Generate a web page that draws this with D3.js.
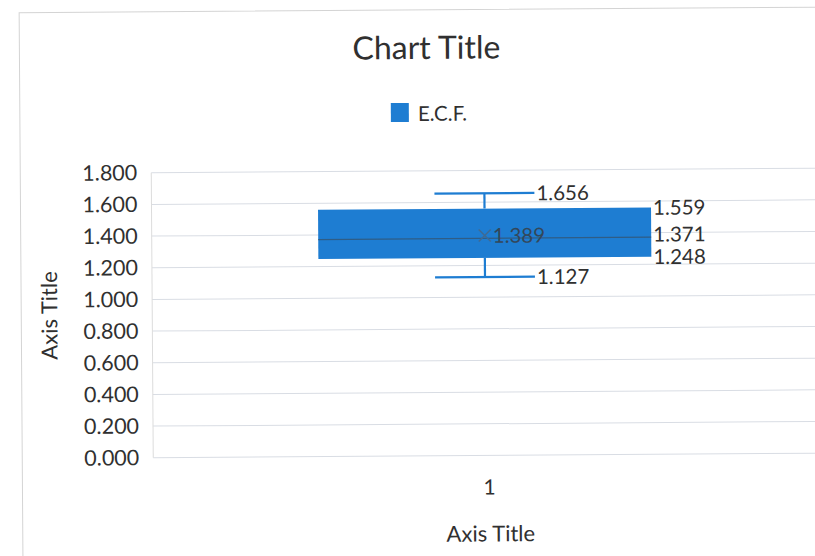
<!DOCTYPE html>
<html>
<head>
<meta charset="utf-8">
<script src="https://cdn.jsdelivr.net/npm/d3@7"></script>
<style>
  body { margin: 0; background: #fff; }
  svg { display: block; }
  text { font-family: Lato, "Open Sans", sans-serif; }
</style>
</head>
<body>
<svg id="chart" width="815" height="556"></svg>
<script>
// Box-and-whisker summary for one category
const categories = ["1"];
const seriesName = "E.C.F.";
const minValues = [1.127];
const q1Values = [1.248];
const medianValues = [1.371];
const meanValues = [1.389];
const q3Values = [1.559];
const maxValues = [1.656];
const yTicks = [0, 0.2, 0.4, 0.6, 0.8, 1.0, 1.2, 1.4, 1.6, 1.8];

const chartTitle = "Chart Title";
const xAxisTitle = "Axis Title";
const yAxisTitle = "Axis Title";

const boxes = categories.map((c, i) => ({
  cat: c,
  min: minValues[i], q1: q1Values[i], median: medianValues[i],
  mean: meanValues[i], q3: q3Values[i], max: maxValues[i]
}));

const fill = "#1e7dd2";
const textColor = "#303030";
const fmt = d3.format(".3f");

const svg = d3.select("#chart");
const root = svg.append("g").attr("transform", "rotate(-0.4, 407, 278)");

// chart frame
root.append("rect")
  .attr("x", 21).attr("y", 10)
  .attr("width", 820).attr("height", 580)
  .attr("fill", "none").attr("stroke", "#d4d4d4").attr("stroke-width", 1);

const plot = { left: 152, right: 818, top: 171, bottom: 456 };

const x = d3.scaleBand().domain(categories).range([plot.left, plot.right]).padding(0);
const y = d3.scaleLinear().domain([0, 1.8]).range([plot.bottom, plot.top]);

// gridlines
root.append("g")
  .selectAll("line").data(yTicks).join("line")
  .attr("x1", plot.left).attr("x2", plot.right)
  .attr("y1", d => y(d)).attr("y2", d => y(d))
  .attr("stroke", "#d9dde4").attr("stroke-width", 1);

// left axis line
root.append("line")
  .attr("x1", plot.left).attr("x2", plot.left)
  .attr("y1", y(1.8)).attr("y2", y(0))
  .attr("stroke", "#dcdcdc").attr("stroke-width", 1);

// y axis labels
const yAxis = d3.axisLeft(y).tickValues(yTicks).tickFormat(fmt).tickSize(0).tickPadding(14);
const yg = root.append("g").attr("transform", `translate(${plot.left},0)`).call(yAxis);
yg.select(".domain").remove();
yg.selectAll("text")
  .attr("font-size", 21.5).attr("fill", textColor)
  .attr("font-family", "Lato, 'Open Sans', sans-serif");

// x axis label
const xAxis = d3.axisBottom(x).tickSize(0).tickPadding(0);
const xg = root.append("g").attr("transform", `translate(3,${plot.bottom + 24})`).call(xAxis);
xg.select(".domain").remove();
xg.selectAll("text")
  .attr("font-size", 21).attr("fill", textColor)
  .attr("font-family", "Lato, 'Open Sans', sans-serif");

// boxes
const bw = x.bandwidth();
const boxW = bw * 0.5;
const capW = bw * 0.15;

const g = root.append("g").selectAll("g").data(boxes).join("g");

g.each(function(d) {
  const sel = d3.select(this);
  const cx = x(d.cat) + bw / 2;

  // whiskers
  sel.append("line")
    .attr("x1", cx).attr("x2", cx)
    .attr("y1", y(d.q3)).attr("y2", y(d.max))
    .attr("stroke", fill).attr("stroke-width", 2.2);
  sel.append("line")
    .attr("x1", cx).attr("x2", cx)
    .attr("y1", y(d.q1)).attr("y2", y(d.min))
    .attr("stroke", fill).attr("stroke-width", 2.2);
  sel.append("line")
    .attr("x1", cx - capW / 2).attr("x2", cx + capW / 2)
    .attr("y1", y(d.max)).attr("y2", y(d.max))
    .attr("stroke", fill).attr("stroke-width", 2.2);
  sel.append("line")
    .attr("x1", cx - capW / 2).attr("x2", cx + capW / 2)
    .attr("y1", y(d.min)).attr("y2", y(d.min))
    .attr("stroke", fill).attr("stroke-width", 2.2);

  // box
  sel.append("rect")
    .attr("x", cx - boxW / 2).attr("width", boxW)
    .attr("y", y(d.q3)).attr("height", y(d.q1) - y(d.q3))
    .attr("fill", fill);

  // median
  sel.append("line")
    .attr("x1", cx - boxW / 2).attr("x2", cx + boxW / 2)
    .attr("y1", y(d.median)).attr("y2", y(d.median))
    .attr("stroke", "#2f5d86").attr("stroke-width", 1.3);

  // mean marker
  const m = 6;
  const my = y(d.mean);
  sel.append("path")
    .attr("d", `M${cx - m},${my - m}L${cx + m},${my + m}M${cx - m},${my + m}L${cx + m},${my - m}`)
    .attr("stroke", "#3f6a93").attr("stroke-width", 1.5).attr("fill", "none");

  // value labels
  const lab = (tx, ty, v, color) => sel.append("text")
    .attr("x", tx).attr("y", ty).attr("dy", "0.36em")
    .attr("font-size", 20.5).attr("fill", color || textColor)
    .text(fmt(v));

  lab(cx + capW / 2 + 2, y(d.max), d.max);
  lab(cx + capW / 2 + 2, y(d.min), d.min);
  lab(cx + 8, my, d.mean, "#33475a");
  lab(cx + boxW / 2 + 2, y(d.q3), d.q3);
  lab(cx + boxW / 2 + 2, y(d.median) - 3, d.median);
  lab(cx + boxW / 2 + 2, y(d.q1), d.q1);
});

// title
root.append("text")
  .attr("x", 428).attr("y", 59)
  .attr("text-anchor", "middle")
  .attr("font-size", 32).attr("fill", textColor)
  .text(chartTitle);

// legend
root.append("rect")
  .attr("x", 392).attr("y", 103).attr("width", 18).attr("height", 19)
  .attr("fill", fill);
root.append("text")
  .attr("x", 419).attr("y", 121)
  .attr("font-size", 20.5).attr("fill", textColor)
  .text(seriesName);

// axis titles
root.append("text")
  .attr("x", 489).attr("y", 542)
  .attr("text-anchor", "middle")
  .attr("font-size", 22).attr("fill", textColor)
  .text(xAxisTitle);

root.append("text")
  .attr("transform", "translate(57,313) rotate(-90)")
  .attr("text-anchor", "middle")
  .attr("font-size", 22).attr("fill", textColor)
  .text(yAxisTitle);
</script>
</body>
</html>
